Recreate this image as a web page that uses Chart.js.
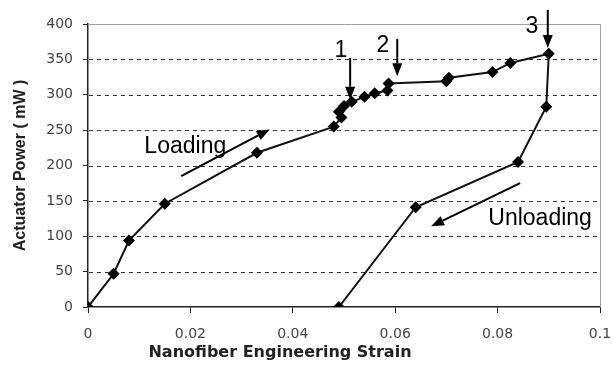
<!DOCTYPE html>
<html>
<head>
<meta charset="utf-8">
<script src="https://cdn.jsdelivr.net/npm/chart.js@4"></script>
<style>
  html, body { margin: 0; padding: 0; background: #fff; }
  #wrap { width: 613px; height: 365px; }
</style>
</head>
<body>
<div id="wrap"><canvas id="chart" width="613" height="365"></canvas></div>
<script>
// strain / power (loading then unloading)
const strain = [0, 0.005, 0.008, 0.015, 0.033, 0.048, 0.0495, 0.049, 0.050, 0.0515, 0.054, 0.056, 0.0585, 0.0587,
                0.070, 0.0705, 0.079, 0.0825, 0.090, 0.0895, 0.084, 0.064, 0.049];
const power = [0, 47, 94, 146, 218, 255, 268, 276, 284, 290, 297, 302, 306, 316,
               319, 324, 332, 345, 358, 283, 205, 141, 0];
const xTicks = [0, 0.02, 0.04, 0.06, 0.08, 0.1];
const yTicks = [0, 50, 100, 150, 200, 250, 300, 350, 400];
const xTitle = 'Nanofiber Engineering Strain';

// arrows + labels, in data units
const arrows = [
    { from: [0.0182, 185], to: [0.0355, 251] },
    { from: [0.0844, 175], to: [0.0670, 114] },
    { from: [0.0512, 352], to: [0.0512, 293] },
    { from: [0.0604, 379], to: [0.0604, 326] },
    { from: [0.0898, 420], to: [0.0898, 366] }
];
const notes = [
    { text: 'Loading', at: [0.0190, 227] },
    { text: 'Unloading', at: [0.0883, 125] },
    { text: '1', at: [0.0494, 363] },
    { text: '2', at: [0.0576, 370] },
    { text: '3', at: [0.0867, 396] }
];

const points = strain.map((s, i) => ({ x: s, y: power[i] }));

// gray frame, dashed grid, x title (sits left of centre) + annotations
const extras = {
    id: 'extras',
    beforeDatasetsDraw(chart) {
        const { ctx, chartArea: a } = chart;
        const ys = chart.scales.y;
        ctx.save();
        ctx.strokeStyle = '#333';
        ctx.lineWidth = 1;
        ctx.setLineDash([4, 4]);
        yTicks.forEach(v => {
            if (v === 0 || v === 400) return;
            const py = Math.round(ys.getPixelForValue(v)) + 0.5;
            ctx.beginPath();
            ctx.moveTo(a.left + 1, py);
            ctx.lineTo(a.right, py);
            ctx.stroke();
        });
        ctx.setLineDash([]);
        ctx.strokeStyle = '#a0a0a0';
        ctx.beginPath();
        ctx.moveTo(a.left, a.top + 0.5);
        ctx.lineTo(a.right + 0.5, a.top + 0.5);
        ctx.lineTo(a.right + 0.5, a.bottom);
        ctx.stroke();
        ctx.restore();
    },
    afterDraw(chart) {
        const { ctx } = chart;
        const xs = chart.scales.x, ys = chart.scales.y;
        ctx.save();
        ctx.fillStyle = '#222';
        ctx.font = 'bold 16px "DejaVu Sans"';
        ctx.textAlign = 'center';
        ctx.textBaseline = 'middle';
        ctx.fillText(xTitle, xs.getPixelForValue(0.0375), 353);

        ctx.strokeStyle = '#000';
        ctx.fillStyle = '#000';
        ctx.lineWidth = 2;
        arrows.forEach(a => {
            const x1 = xs.getPixelForValue(a.from[0]), y1 = ys.getPixelForValue(a.from[1]);
            const x2 = xs.getPixelForValue(a.to[0]), y2 = ys.getPixelForValue(a.to[1]);
            const ang = Math.atan2(y2 - y1, x2 - x1);
            const hl = 13, hw = 5;
            ctx.beginPath();
            ctx.moveTo(x1, y1);
            ctx.lineTo(x2 - hl * Math.cos(ang), y2 - hl * Math.sin(ang));
            ctx.stroke();
            ctx.beginPath();
            ctx.moveTo(x2, y2);
            ctx.lineTo(x2 - hl * Math.cos(ang) - hw * Math.sin(ang), y2 - hl * Math.sin(ang) + hw * Math.cos(ang));
            ctx.lineTo(x2 - hl * Math.cos(ang) + hw * Math.sin(ang), y2 - hl * Math.sin(ang) - hw * Math.cos(ang));
            ctx.closePath();
            ctx.fill();
        });
        ctx.font = '23px "Liberation Sans", Arial, sans-serif';
        notes.forEach(n => {
            ctx.fillText(n.text, xs.getPixelForValue(n.at[0]), ys.getPixelForValue(n.at[1]));
        });
        ctx.restore();
    }
};

new Chart(document.getElementById('chart'), {
    type: 'scatter',
    data: {
        datasets: [{
            data: points,
            showLine: true,
            borderColor: '#111',
            borderWidth: 2,
            backgroundColor: '#000',
            pointStyle: 'rectRot',
            pointRadius: 6,
            pointBorderWidth: 0
        }]
    },
    options: {
        responsive: false,
        animation: false,
        layout: { padding: { left: 0, right: 13, top: 24, bottom: 0 } },
        plugins: { legend: { display: false }, tooltip: { enabled: false } },
        scales: {
            x: {
                type: 'linear',
                min: 0,
                max: 0.1,
                afterBuildTicks: s => { s.ticks = xTicks.map(v => ({ value: v })); },
                afterFit: s => { s.height = 58; s.paddingLeft = 0; s.paddingRight = 0; },
                border: { color: '#222', width: 1.5 },
                grid: { drawOnChartArea: false, tickLength: 6, color: '#222' },
                ticks: {
                    padding: 13,
                    color: '#444',
                    font: { family: '"DejaVu Sans"', size: 14 },
                    callback: v => String(v)
                }
            },
            y: {
                min: 0,
                max: 400,
                afterBuildTicks: s => { s.ticks = yTicks.map(v => ({ value: v })); },
                afterFit: s => { s.width = 88; s.paddingTop = 0; s.paddingBottom = 0; },
                border: { color: '#222', width: 1.5 },
                grid: {
                    drawOnChartArea: false,
                    color: '#222',
                    tickLength: 5,
                    lineWidth: 1
                },
                ticks: {
                    padding: 10,
                    color: '#444',
                    font: { family: '"DejaVu Sans"', size: 14 }
                },
                title: {
                    display: true,
                    text: 'Actuator Power ( mW )',
                    color: '#222',
                    font: { family: '"Liberation Sans"', size: 16, weight: 'bold' },
                    padding: { top: 11, bottom: 0 }
                }
            }
        }
    },
    plugins: [extras]
});
</script>
</body>
</html>
